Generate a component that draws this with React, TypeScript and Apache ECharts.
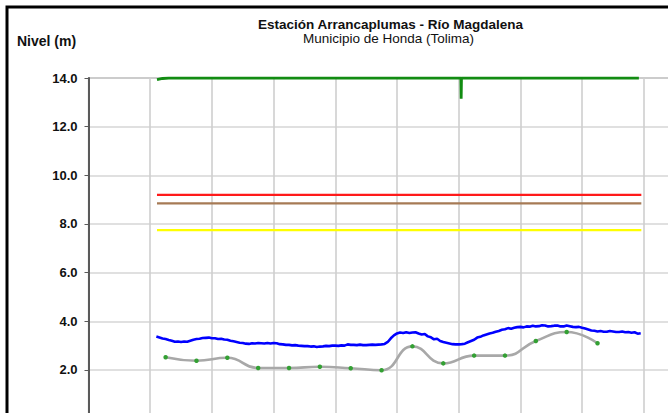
import React, { useEffect, useRef } from "react";
import * as echarts from "echarts";

// X axis: days (gridline every 10 days); Y axis: level in metres
const xMin = 0;
const xMax = 100;
const xInterval = 10;
const yMin = 0;
const yMax = 14;
const yInterval = 2;

// Observed level (blue): readings every half day from day 11 to day 89.5
const blueStartDay = 11;
const blueStepDays = 0.5;
const blueLevels = [
  3.37, 3.33, 3.29, 3.27, 3.23, 3.2, 3.16, 3.17, 3.15, 3.17, 3.16, 3.2, 3.24, 3.27, 3.28, 3.31, 3.32, 3.33, 3.3, 3.3,
  3.27, 3.28, 3.25, 3.24, 3.2, 3.18, 3.15, 3.12, 3.11, 3.08, 3.07, 3.1, 3.09, 3.11, 3.1, 3.09, 3.11, 3.09, 3.11, 3.1,
  3.06, 3.05, 3.03, 3.03, 3.01, 3.02, 3.0, 2.99, 2.98, 2.98, 2.96, 2.97, 2.94, 2.96, 2.97, 2.99, 2.98, 3.0, 3.0, 2.99,
  3.01, 3.0, 3.05, 3.03, 3.03, 3.02, 3.04, 3.02, 3.02, 3.03, 3.04, 3.03, 3.04, 3.05, 3.07, 3.15, 3.3, 3.42, 3.5, 3.54,
  3.52, 3.55, 3.52, 3.54, 3.55, 3.5, 3.46, 3.48, 3.38, 3.34, 3.26, 3.28, 3.19, 3.15, 3.12, 3.09, 3.06, 3.05, 3.05, 3.06,
  3.08, 3.14, 3.19, 3.24, 3.33, 3.36, 3.42, 3.46, 3.5, 3.53, 3.57, 3.6, 3.65, 3.67, 3.72, 3.69, 3.73, 3.76, 3.77, 3.75,
  3.79, 3.78, 3.82, 3.79, 3.8, 3.84, 3.83, 3.79, 3.8, 3.82, 3.83, 3.79, 3.79, 3.83, 3.8, 3.77, 3.76, 3.77, 3.73, 3.7,
  3.66, 3.62, 3.61, 3.58, 3.6, 3.57, 3.57, 3.6, 3.58, 3.56, 3.56, 3.58, 3.55, 3.56, 3.53, 3.55, 3.49, 3.51,
];

// Smoothed reference levels (gray with green dots)
const grayDays = [12.5, 17.5, 22.5, 27.5, 32.5, 37.5, 42.5, 47.5, 52.5, 57.5, 62.5, 67.5, 72.5, 77.5, 82.5];
const grayLevels = [2.52, 2.38, 2.5, 2.08, 2.08, 2.13, 2.07, 1.99, 2.97, 2.27, 2.59, 2.59, 3.19, 3.56, 3.1];

// Green series near the top
const greenDays = [11.1, 12, 13, 30, 50, 60.35, 60.4, 60.45, 70, 89.2];
const greenLevels = [13.93, 13.98, 14.0, 14.0, 14.0, 14.0, 13.15, 14.0, 14.0, 14.0];

// Threshold lines
const thresholdStart = 11.1;
const thresholdEnd = 89.6;
const redLevel = 9.2;
const brownLevel = 8.85;
const yellowLevel = 7.75;

const yTickLabels = ["0.0", "2.0", "4.0", "6.0", "8.0", "10.0", "12.0", "14.0"];

const titleText = "Estación Arrancaplumas - Río Magdalena";
const subtitleText = "Municipio de Honda (Tolima)";
const yAxisTitle = "Nivel (m)";

const FONT = "'Liberation Sans', Arial, Helvetica, sans-serif";

function pairs(xs: number[], ys: number[]) {
  return xs.map((x, i) => [x, ys[i]]);
}

export default function App() {
  const ref = useRef<HTMLDivElement>(null);

  useEffect(() => {
    if (!ref.current) return;
    const chart = echarts.init(ref.current, null, { renderer: "svg" });

    const hLine = (level: number, color: string, width: number) => ({
      type: "line",
      data: [
        [thresholdStart, level],
        [thresholdEnd, level],
      ],
      symbol: "none",
      lineStyle: { color, width },
      z: 3,
    });

    const blueData = blueLevels.map((v, i) => [blueStartDay + i * blueStepDays, v]);

    chart.setOption({
      animation: false,
      backgroundColor: "#ffffff",
      grid: {
        left: 88.5,
        top: 78,
        width: 617,
        height: 340.6,
        outerBoundsMode: "none",
        containLabel: false,
        show: true,
        borderColor: "#9a9a9a",
        borderWidth: 1.2,
        backgroundColor: "transparent",
      },
      xAxis: {
        type: "value",
        min: xMin,
        max: xMax,
        interval: xInterval,
        axisLine: { show: false },
        axisTick: { show: false },
        axisLabel: { show: false },
        splitLine: {
          show: true,
          lineStyle: { color: "#cfcfcf", width: 1.6 },
        },
      },
      yAxis: {
        type: "value",
        min: yMin,
        max: yMax,
        interval: yInterval,
        axisLine: { show: true, lineStyle: { color: "#5a5a5a", width: 2 } },
        axisTick: { show: true, length: 4, lineStyle: { color: "#5a5a5a", width: 1 } },
        axisLabel: {
          margin: 11,
          showMinLabel: false,
          fontFamily: FONT,
          fontSize: 13,
          fontWeight: "bold",
          color: "#111",
          formatter: (v: number) => yTickLabels[Math.round((v - yMin) / yInterval)] ?? v.toFixed(1),
        },
        splitLine: {
          show: true,
          showMaxLine: false,
          lineStyle: { color: "#d6d6d6", width: 1.6 },
        },
      },
      graphic: [
        {
          type: "rect",
          shape: { x: 7, y: 7, width: 760, height: 500 },
          style: { fill: "none", stroke: "#000", lineWidth: 3 },
          z: 100,
          silent: true,
        },
        {
          type: "text",
          x: 390.5,
          y: 24,
          style: {
            text: titleText,
            fontFamily: FONT,
            fontSize: 13.5,
            fontWeight: "bold",
            fill: "#111",
            align: "center",
            verticalAlign: "middle",
          },
        },
        {
          type: "text",
          x: 388.5,
          y: 38.5,
          style: {
            text: subtitleText,
            fontFamily: FONT,
            fontSize: 13.5,
            fill: "#111",
            align: "center",
            verticalAlign: "middle",
          },
        },
        {
          type: "text",
          x: 17,
          y: 40.5,
          style: {
            text: yAxisTitle,
            fontFamily: FONT,
            fontSize: 14,
            fontWeight: "bold",
            fill: "#111",
            align: "left",
            verticalAlign: "middle",
          },
        },
      ],
      series: [
        hLine(redLevel, "#ff1a1a", 2.2),
        hLine(brownLevel, "#a67a55", 2.2),
        hLine(yellowLevel, "#ffff00", 2.2),
        {
          type: "line",
          data: pairs(greenDays, greenLevels),
          symbol: "none",
          lineStyle: { color: "#128c12", width: 2.8 },
          z: 4,
        },
        {
          type: "line",
          data: blueData,
          symbol: "none",
          lineStyle: { color: "#0000ff", width: 2.6 },
          z: 5,
        },
        {
          type: "line",
          data: pairs(grayDays, grayLevels),
          smooth: 0.5,
          symbol: "circle",
          symbolSize: 4.5,
          itemStyle: { color: "#33a033", borderWidth: 0 },
          lineStyle: { color: "#a8a8a8", width: 2.6 },
          z: 4,
        },
      ],
    });

    return () => chart.dispose();
  }, []);

  return (
    <div
      ref={ref}
      style={{ position: "absolute", left: 0, top: 0, width: 668, height: 413 }}
    />
  );
}
